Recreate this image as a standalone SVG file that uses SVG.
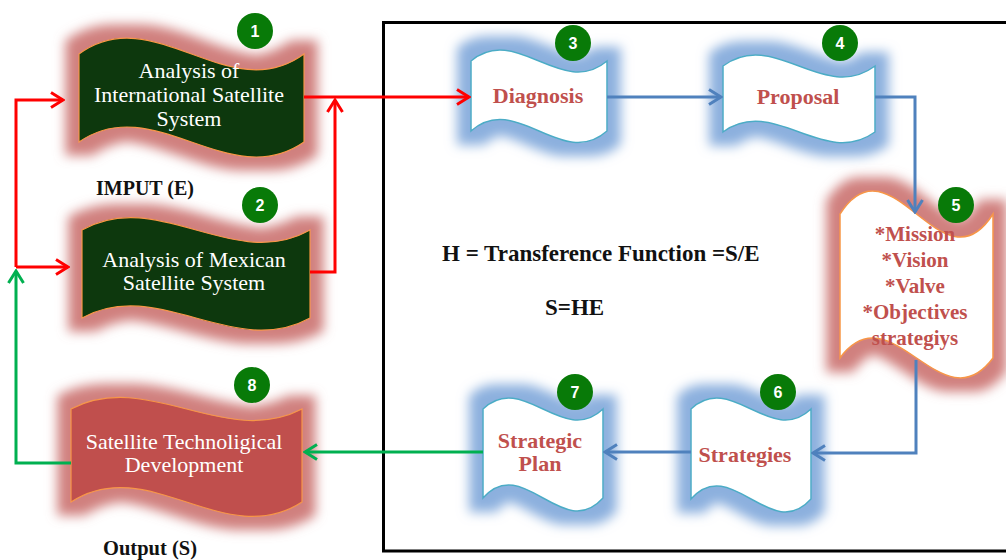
<svg xmlns="http://www.w3.org/2000/svg" xmlns:xlink="http://www.w3.org/1999/xlink" width="1006" height="560" viewBox="0 0 1006 560">
<defs>
<style>
.dg{fill:#073707;stroke:#f79646;stroke-width:1.2;filter:url(#glowR)}
.rd{fill:#c0504d;stroke:#f79646;stroke-width:1.2;filter:url(#glowR)}
.wo{fill:#ffffff;stroke:#f79646;stroke-width:1.5;filter:url(#glowR)}
.wb{fill:#ffffff;stroke:#4bacc6;stroke-width:1.5;filter:url(#glowB)}
.tw{font-family:"Liberation Serif","Times New Roman",serif;font-size:22px;fill:#ffffff;text-anchor:middle}
.tr{font-family:"Liberation Serif","Times New Roman",serif;font-size:22px;font-weight:bold;fill:#c0504d;text-anchor:middle}
.t5{font-family:"Liberation Serif","Times New Roman",serif;font-size:21px;font-weight:bold;fill:#c0504d;text-anchor:middle}
.tk{font-family:"Liberation Serif","Times New Roman",serif;font-weight:bold;fill:#111111}
.bc{fill:#087a08}
.bt{font-family:"Liberation Sans",Arial,sans-serif;font-size:16px;font-weight:bold;fill:#ffffff;text-anchor:middle}
.cr{fill:none;stroke:#ff0000;stroke-width:3}
.cb{fill:none;stroke:#4f81bd;stroke-width:3}
.cg{fill:none;stroke:#00b050;stroke-width:3}
</style>
<filter id="glowR" x="-40%" y="-60%" width="180%" height="220%">
<feMorphology in="SourceAlpha" operator="dilate" radius="13" result="d"/>
<feGaussianBlur in="d" stdDeviation="6" result="b"/>
<feFlood flood-color="#d0807e" flood-opacity="1"/>
<feComposite in2="b" operator="in" result="g"/>
<feMerge><feMergeNode in="g"/><feMergeNode in="SourceGraphic"/></feMerge>
</filter>
<filter id="glowB" x="-40%" y="-60%" width="180%" height="220%">
<feMorphology in="SourceAlpha" operator="dilate" radius="13" result="d"/>
<feGaussianBlur in="d" stdDeviation="6" result="b"/>
<feFlood flood-color="#8cb0de" flood-opacity="1"/>
<feComposite in2="b" operator="in" result="g"/>
<feMerge><feMergeNode in="g"/><feMergeNode in="SourceGraphic"/></feMerge>
</filter>
<marker id="ar" viewBox="0 0 16 18" markerWidth="16" markerHeight="18" refX="14" refY="9" markerUnits="userSpaceOnUse" orient="auto"><path d="M2,1.5 L14,9 L2,16.5" fill="none" stroke="#ff0000" stroke-width="3"/></marker>
<marker id="ab" viewBox="0 0 16 18" markerWidth="16" markerHeight="18" refX="14" refY="9" markerUnits="userSpaceOnUse" orient="auto"><path d="M2,1.5 L14,9 L2,16.5" fill="none" stroke="#4f81bd" stroke-width="3"/></marker>
<marker id="ag" viewBox="0 0 16 18" markerWidth="16" markerHeight="18" refX="14" refY="9" markerUnits="userSpaceOnUse" orient="auto"><path d="M2,1.5 L14,9 L2,16.5" fill="none" stroke="#00b050" stroke-width="3"/></marker>
</defs>
<rect width="1006" height="560" fill="#ffffff"/>
<path id="frame" d="M1010,22.5 H383.5 V551 H1010" fill="none" stroke="#000000" stroke-width="3"/>

<g id="node1">
<path class="dg" d="M79,54 C154,-1 229,109 304,54 L304,142 C229,194 154,90 79,142 Z"/>
<text class="tw" x="189" y="78">Analysis of</text>
<text class="tw" x="189" y="102">International Satellite</text>
<text class="tw" x="189" y="126">System</text>
<circle class="bc" cx="255" cy="31" r="18"/><text class="bt" x="255" y="37">1</text>
</g>
<g id="node2">
<path class="dg" d="M82,230 C158,187 234,273 310,230 L310,318 C234,360 158,276 82,318 Z"/>
<text class="tw" x="194" y="267">Analysis of Mexican</text>
<text class="tw" x="194" y="290">Satellite System</text>
<circle class="bc" cx="260" cy="205" r="18"/><text class="bt" x="260" y="211">2</text>
</g>
<g id="node8">
<path class="rd" d="M71,409 C148,369 225,449 302,409 L302,502 C225,552 148,452 71,502 Z"/>
<text class="tw" x="184" y="449">Satellite Technoligical</text>
<text class="tw" x="184" y="472">Development</text>
<circle class="bc" cx="252" cy="385" r="18"/><text class="bt" x="252" y="391">8</text>
</g>
<g id="node3">
<path class="wb" d="M471,61 C516,23 562,99 607,61 L607,131 C562,171 516,91 471,131 Z"/>
<text class="tr" x="538" y="103">Diagnosis</text>
<circle class="bc" cx="573" cy="43" r="18"/><text class="bt" x="573" y="49">3</text>
</g>
<g id="node4">
<path class="wb" d="M723,66 C774,28 824,104 875,66 L875,132 C824,169 774,95 723,132 Z"/>
<text class="tr" x="798" y="104">Proposal</text>
<circle class="bc" cx="840" cy="43" r="18"/><text class="bt" x="840" y="49">4</text>
</g>
<g id="node5">
<path class="wo" d="M840,214 C891,134 942,294 993,214 L993,358 C942,427 891,289 840,358 Z"/>
<text class="t5" x="915" y="241">*Mission</text>
<text class="t5" x="915" y="267">*Vision</text>
<text class="t5" x="915" y="293">*Valve</text>
<text class="t5" x="915" y="319">*Objectives</text>
<text class="t5" x="915" y="345">strategiys</text>
<circle class="bc" cx="956" cy="205" r="18"/><text class="bt" x="956" y="211">5</text>
</g>
<g id="node6">
<path class="wb" d="M691,409 C731,371 771,447 811,409 L811,499 C771,544 731,454 691,499 Z"/>
<text class="tr" x="745" y="462">Strategies</text>
<circle class="bc" cx="778" cy="392" r="18"/><text class="bt" x="778" y="398">6</text>
</g>
<g id="node7">
<path class="wb" d="M483,409 C523,371 563,447 603,409 L603,498 C563,543 523,453 483,498 Z"/>
<text class="tr" x="540" y="448">Strategic</text>
<text class="tr" x="540" y="471">Plan</text>
<circle class="bc" cx="575" cy="392" r="18"/><text class="bt" x="575" y="398">7</text>
</g>

<g id="labels">
<text class="tk" x="96" y="195" font-size="20">IMPUT (E)</text>
<text class="tk" x="103" y="555" font-size="20.5">Output (S)</text>
<text class="tk" x="442" y="261" font-size="23">H = Transference Function =S/E</text>
<text class="tk" x="545" y="315" font-size="23">S=HE</text>
</g>

<g id="connectors">
<path class="cr" d="M304,97 H469" marker-end="url(#ar)"/>
<path class="cr" d="M310,272 H335 V100" marker-end="url(#ar)"/>
<path class="cr" d="M16,267 V100 H63" marker-end="url(#ar)"/>
<path class="cr" d="M16,267 H68" marker-end="url(#ar)"/>
<path class="cg" d="M71,463 H16 V271" marker-end="url(#ag)"/>
<path class="cg" d="M483,452 H305" marker-end="url(#ag)"/>
<path class="cb" d="M607,97 H721" marker-end="url(#ab)"/>
<path class="cb" d="M875,97 H915 V212" marker-end="url(#ab)"/>
<path class="cb" d="M916,360 V453 H813" marker-end="url(#ab)"/>
<path class="cb" d="M691,452 H605" marker-end="url(#ab)"/>
</g>
</svg>
